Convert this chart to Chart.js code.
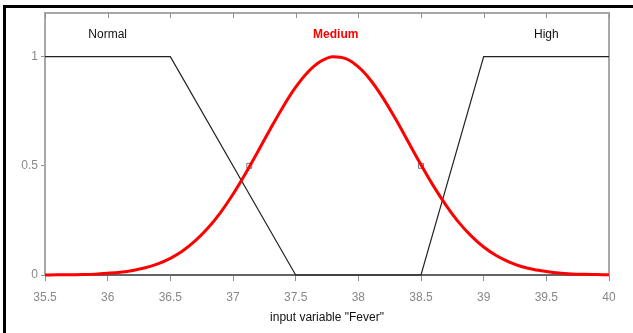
<!DOCTYPE html>
<html>
<head>
<meta charset="utf-8">
<script src="https://cdn.jsdelivr.net/npm/chart.js@4"></script>
<style>
  html, body { margin: 0; padding: 0; background: #fff; }
  #wrap { position: relative; width: 633px; height: 333px; overflow: hidden; }
  #frame { position: absolute; left: 3px; top: 5px; right: -10px; bottom: -10px; border-top: 3px solid #000; border-left: 3px solid #000; }
  canvas { position: absolute; left: 0; top: 0; }
</style>
</head>
<body>
<div id="wrap"><div id="frame"></div><canvas id="c" width="633" height="333"></canvas></div>
<script>
// Membership functions
const normalX = [35.5, 36.5, 37.5, 40];
const normalY = [1, 1, 0, 0];
const highX = [35.5, 38.5, 39, 40];
const highY = [0, 0, 1, 1];
const mediumX = [35.5,35.6,35.7,35.8,35.9,36.0,36.1,36.2,36.3,36.4,36.5,36.6,36.7,36.8,36.9,37.0,37.1,37.2,37.3,37.4,37.5,37.6,37.7,37.8,37.9,38.0,38.1,38.2,38.3,38.4,38.5,38.6,38.7,38.8,38.9,39.0,39.1,39.2,39.3,39.4,39.5,39.6,39.7,39.8,39.9,40.0];
const mediumY = [0.000,0.001,0.001,0.002,0.004,0.008,0.013,0.021,0.033,0.051,0.076,0.111,0.157,0.215,0.286,0.370,0.465,0.567,0.671,0.771,0.860,0.931,0.979,1.000,0.991,0.953,0.891,0.808,0.712,0.608,0.505,0.407,0.319,0.242,0.179,0.128,0.089,0.060,0.039,0.025,0.016,0.009,0.005,0.003,0.002,0.001];
const markerX = [37.13, 38.5];
const markerY = [0.5, 0.5];
const mfNames = ["Normal", "Medium", "High"];
const mfLabelX = [36.0, 37.82, 39.5];
const mfLabelY = [1.1, 1.1, 1.1];
const xTicks = [35.5, 36, 36.5, 37, 37.5, 38, 38.5, 39, 39.5, 40];
const xTickLabels = ["35.5", "36", "36.5", "37", "37.5", "38", "38.5", "39", "39.5", "40"];
const yTicks = [0, 0.5, 1];
const yTickLabels = ["0", "0.5", "1"];
const xTitle = 'input variable "Fever"';

const pts = (xs, ys) => xs.map((x, i) => ({x: x, y: ys[i]}));
const FONT = '"Liberation Sans", Arial, sans-serif';

const boxPlugin = {
  id: 'box',
  beforeDatasetsDraw(chart) {
    const {ctx, chartArea: a, scales} = chart;
    ctx.save();
    ctx.strokeStyle = '#a8a8a8';
    ctx.lineWidth = 2;
    ctx.strokeRect(a.left, a.top, a.right - a.left, a.bottom - a.top);
    ctx.lineWidth = 1;
    ctx.strokeStyle = '#909090';
    xTicks.forEach(v => {
      const px = Math.round(scales.x.getPixelForValue(v)) + 0.5;
      ctx.beginPath(); ctx.moveTo(px, a.top); ctx.lineTo(px, a.top + 5); ctx.stroke();
    });
    ctx.restore();
  },
  afterDatasetsDraw(chart) {
    const {ctx, scales} = chart;
    ctx.save();
    ctx.textAlign = 'center';
    ctx.textBaseline = 'middle';
    mfNames.forEach((n, i) => {
      const px = scales.x.getPixelForValue(mfLabelX[i]);
      const py = scales.y.getPixelForValue(mfLabelY[i]);
      if (n === 'Medium') { ctx.fillStyle = '#ff0000'; ctx.font = 'bold 12px ' + FONT; }
      else { ctx.fillStyle = '#111'; ctx.font = '12px ' + FONT; }
      ctx.fillText(n, px, py);
    });
    ctx.restore();
  }
};

new Chart(document.getElementById('c'), {
  type: 'scatter',
  data: {
    datasets: [
      { data: pts(mediumX, mediumY), showLine: true, borderColor: '#ff0000', borderWidth: 3, pointRadius: 0, fill: false, cubicInterpolationMode: 'monotone' },
      { data: pts(normalX, normalY), showLine: true, borderColor: '#222', borderWidth: 1.2, pointRadius: 0, fill: false, tension: 0 },
      { data: pts(highX, highY), showLine: true, borderColor: '#222', borderWidth: 1.2, pointRadius: 0, fill: false, tension: 0 },
      { data: pts(markerX, markerY), showLine: false, pointStyle: 'rect', pointRadius: 3.5, borderColor: '#777', borderWidth: 1, backgroundColor: 'rgba(255,255,255,0)' }
    ]
  },
  options: {
    responsive: false,
    animation: false,
    clip: false,
    layout: { padding: { left: 0, right: 24, top: 13, bottom: 0 } },
    plugins: { legend: { display: false }, tooltip: { enabled: false } },
    scales: {
      x: {
        type: 'linear', min: 35.5, max: 40,
        afterBuildTicks: s => { s.ticks = xTicks.map(v => ({value: v})); },
        afterFit: s => { s.height = 58; },
        grid: { drawOnChartArea: false, tickLength: 6, color: '#909090' },
        border: { color: '#a8a8a8', width: 2 },
        ticks: { color: '#888', font: { size: 12, family: FONT }, padding: 9, maxRotation: 0,
                 callback: (v) => { const i = xTicks.indexOf(v); return i >= 0 ? xTickLabels[i] : ''; } },
        title: { display: true, text: xTitle, color: '#111', font: { size: 12, family: FONT }, padding: { top: 0, bottom: 8 } }
      },
      y: {
        type: 'linear', min: 0, max: 1.2,
        afterBuildTicks: s => { s.ticks = yTicks.map(v => ({value: v})); },
        afterFit: s => { s.width = 45; },
        grid: { drawOnChartArea: false, tickLength: 4, color: '#909090' },
        border: { color: '#a8a8a8', width: 2 },
        ticks: { color: '#888', font: { size: 12, family: FONT }, padding: 3,
                 callback: (v) => { const i = yTicks.indexOf(v); return i >= 0 ? yTickLabels[i] : ''; } }
      }
    }
  },
  plugins: [boxPlugin]
});
</script>
</body>
</html>
